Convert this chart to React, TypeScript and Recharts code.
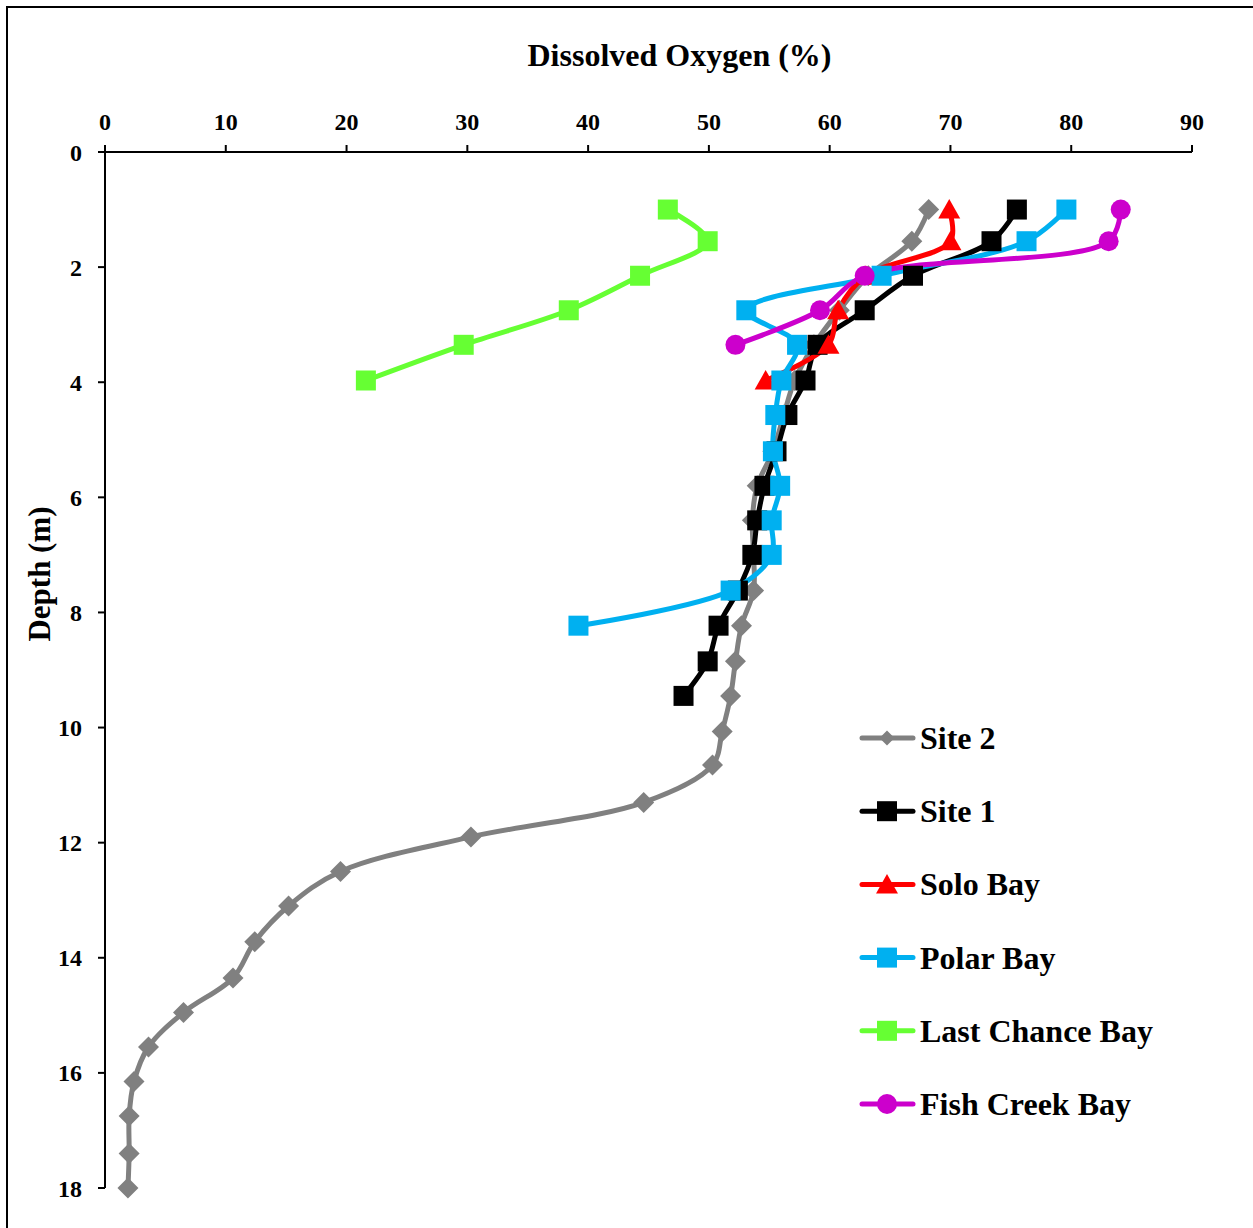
import React from 'react';
import { LineChart, Line, XAxis, YAxis, Legend } from 'recharts';

const FONT = "'Times New Roman', 'Liberation Serif', serif";

// depth (m) of each profile reading, top to bottom
const depths = [
  1.0, 1.55, 2.15, 2.75, 3.35, 3.97, 4.57, 5.2, 5.8, 6.4, 7.0, 7.62, 8.23, 8.85, 9.45,
  10.07, 10.65, 11.3, 11.9, 12.5, 13.1, 13.72, 14.35, 14.95, 15.55, 16.15, 16.75, 17.4, 18.0,
];

// dissolved oxygen (%) per site
const site2 = [
  68.2, 66.8, 63.2, 60.8, 58.7, 57.1, 56.2, 55.3, 54.0, 53.6, 53.7, 53.7, 52.7, 52.2, 51.8,
  51.1, 50.3, 44.6, 30.3, 19.5, 15.2, 12.4, 10.6, 6.5, 3.6, 2.4, 2.0, 2.0, 1.9,
];
const site1 = [75.5, 73.4, 66.9, 62.9, 59.0, 58.0, 56.5, 55.6, 54.6, 54.0, 53.6, 52.4, 50.8, 49.9, 47.9];
const soloBay = [69.9, 70.0, 63.0, 60.7, 59.9, 54.7];
const polarBay = [79.6, 76.3, 64.3, 53.1, 57.3, 56.0, 55.5, 55.3, 55.9, 55.2, 55.2, 51.8, 39.2];
const lastChanceBay = [46.6, 49.9, 44.3, 38.4, 29.7, 21.6];
const fishCreekBay = [84.1, 83.1, 62.9, 59.2, 52.2];

const xTicks = [0, 10, 20, 30, 40, 50, 60, 70, 80, 90];
const yTicks = [0, 2, 4, 6, 8, 10, 12, 14, 16, 18];

const data = depths.map((depth, i) => ({
  depth,
  site2: site2[i],
  site1: site1[i],
  soloBay: soloBay[i],
  polarBay: polarBay[i],
  lastChanceBay: lastChanceBay[i],
  fishCreekBay: fishCreekBay[i],
}));

type Shape = 'diamond' | 'square' | 'triangle' | 'circle';

const series: { key: string; name: string; color: string; shape: Shape }[] = [
  { key: 'site2', name: 'Site 2', color: '#808080', shape: 'diamond' },
  { key: 'site1', name: 'Site 1', color: '#000000', shape: 'square' },
  { key: 'soloBay', name: 'Solo Bay', color: '#FF0000', shape: 'triangle' },
  { key: 'polarBay', name: 'Polar Bay', color: '#00B0F0', shape: 'square' },
  { key: 'lastChanceBay', name: 'Last Chance Bay', color: '#66FF33', shape: 'square' },
  { key: 'fishCreekBay', name: 'Fish Creek Bay', color: '#CC00CC', shape: 'circle' },
];

// smoothed line like Excel's: centripetal Catmull-Rom written as cubic beziers
const smoothCurve = (context: any) => {
  let pts: [number, number][] = [];
  const dist = (a: [number, number], b: [number, number]) => Math.hypot(b[0] - a[0], b[1] - a[1]);
  return {
    areaStart() {},
    areaEnd() {},
    lineStart() {
      pts = [];
    },
    lineEnd() {
      const n = pts.length;
      if (!n) return;
      context.moveTo(pts[0][0], pts[0][1]);
      for (let i = 0; i < n - 1; i++) {
        const p0 = pts[i - 1] || pts[i];
        const p1 = pts[i];
        const p2 = pts[i + 1];
        const p3 = pts[i + 2] || p2;
        const l01 = dist(p0, p1), l12 = dist(p1, p2), l23 = dist(p2, p3);
        const l01a = Math.sqrt(l01), l12a = Math.sqrt(l12), l23a = Math.sqrt(l23);
        let c1x = p1[0], c1y = p1[1], c2x = p2[0], c2y = p2[1];
        if (l01a > 1e-6) {
          const a = 2 * l01 + 3 * l01a * l12a + l12;
          const m = 3 * l01a * (l01a + l12a);
          c1x = (p1[0] * a - p0[0] * l12 + p2[0] * l01) / m;
          c1y = (p1[1] * a - p0[1] * l12 + p2[1] * l01) / m;
        }
        if (l23a > 1e-6) {
          const b = 2 * l23 + 3 * l23a * l12a + l12;
          const m = 3 * l23a * (l23a + l12a);
          c2x = (p2[0] * b + p1[0] * l23 - p3[0] * l12) / m;
          c2y = (p2[1] * b + p1[1] * l23 - p3[1] * l12) / m;
        }
        context.bezierCurveTo(c1x, c1y, c2x, c2y, p2[0], p2[1]);
      }
    },
    point(x: number, y: number) {
      pts.push([x, y]);
    },
  };
};

function marker(shape: Shape, cx: number, cy: number, color: string, s: number, key?: string) {
  if (shape === 'diamond')
    return <path key={key} d={`M${cx},${cy - s}L${cx + s},${cy}L${cx},${cy + s}L${cx - s},${cy}Z`} fill={color} />;
  if (shape === 'square')
    return <rect key={key} x={cx - s} y={cy - s} width={s * 2} height={s * 2} fill={color} />;
  if (shape === 'triangle')
    return (
      <path
        key={key}
        d={`M${cx},${cy - s * 1.05}L${cx + s * 1.1},${cy + s * 0.9}L${cx - s * 1.1},${cy + s * 0.9}Z`}
        fill={color}
      />
    );
  return <circle key={key} cx={cx} cy={cy} r={s} fill={color} />;
}

const markerSize: Record<Shape, number> = { diamond: 10.5, square: 10, triangle: 10, circle: 10 };

// legend keeps the series order (Site 2 first)
const renderLegend = () => (
  <svg width={400} height={440} style={{ overflow: 'visible' }}>
    {series.map((s, i) => {
      const cy = 23 + i * 73.2;
      return (
        <g key={s.key}>
          <line x1={9} x2={60} y1={cy} y2={cy} stroke={s.color} strokeWidth={5} strokeLinecap="round" />
          {marker(s.shape, 34, cy, s.color, s.shape === 'diamond' ? 7.5 : 10)}
          <text x={67} y={cy + 11} fontFamily={FONT} fontWeight="bold" fontSize={32} fill="#000">
            {s.name}
          </text>
        </g>
      );
    })}
  </svg>
);

export default function App() {
  return (
    <div style={{ position: 'absolute', left: 0, top: 0, width: 1253, height: 1228, background: '#fff' }}>
      <LineChart
        width={1253}
        height={1228}
        data={data}
        layout="vertical"
        margin={{ top: 102, left: 45, right: 61, bottom: 40 }}
      >
        <XAxis
          type="number"
          orientation="top"
          domain={[0, 90]}
          ticks={xTicks}
          height={50}
          tickSize={7}
          tickMargin={15}
          axisLine={{ stroke: '#000', strokeWidth: 2 }}
          tickLine={{ stroke: '#000', strokeWidth: 2 }}
          tick={{ fontSize: 24, fontWeight: 'bold', fill: '#000', fontFamily: FONT }}
        />
        <YAxis
          type="number"
          dataKey="depth"
          domain={[0, 18]}
          ticks={yTicks}
          width={60}
          tickSize={7}
          tickMargin={16}
          axisLine={{ stroke: '#000', strokeWidth: 2 }}
          tickLine={{ stroke: '#000', strokeWidth: 2 }}
          tick={{ fontSize: 24, fontWeight: 'bold', fill: '#000', fontFamily: FONT }}
        />
        <Legend
          layout="vertical"
          align="center"
          verticalAlign="middle"
          wrapperStyle={{ left: 853, top: 715, width: 400, height: 440 }}
          content={renderLegend}
        />
        {series.map((s) => (
          <Line
            key={s.key}
            dataKey={s.key}
            name={s.name}
            stroke={s.color}
            strokeWidth={5}
            type={smoothCurve as any}
            isAnimationActive={false}
            activeDot={false}
            dot={(p: any) => {
              const k = `${s.key}-${p.index}`;
              if (p.cx == null || p.cy == null || p.value == null || Number.isNaN(p.cx)) return <g key={k} />;
              return marker(s.shape, p.cx, p.cy, s.color, markerSize[s.shape], k);
            }}
          />
        ))}
      </LineChart>
      <svg
        width={1253}
        height={1228}
        style={{ position: 'absolute', left: 0, top: 0, pointerEvents: 'none' }}
      >
        <rect x={7} y={7} width={1300} height={1300} fill="none" stroke="#000" strokeWidth={2} />
        <text x={679.5} y={66} textAnchor="middle" fontFamily={FONT} fontWeight="bold" fontSize={32} fill="#000">
          Dissolved Oxygen (%)
        </text>
        <text
          x={0}
          y={0}
          transform="translate(50,574) rotate(-90)"
          textAnchor="middle"
          fontFamily={FONT}
          fontWeight="bold"
          fontSize={31}
          fill="#000"
        >
          Depth (m)
        </text>
      </svg>
    </div>
  );
}
